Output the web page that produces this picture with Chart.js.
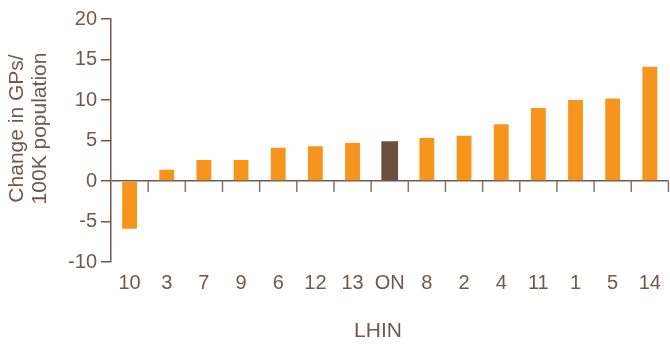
<!DOCTYPE html>
<html>
<head>
<meta charset="utf-8">
<script src="https://cdn.jsdelivr.net/npm/chart.js@4/dist/chart.umd.min.js"></script>
<style>
  html, body { margin: 0; padding: 0; background: #fff; }
  #wrap { width: 670px; height: 344px; }
</style>
</head>
<body>
<div id="wrap"><canvas id="myChart"></canvas></div>
<script>
const categories = ["10", "3", "7", "9", "6", "12", "13", "ON", "8", "2", "4", "11", "1", "5", "14"];
const values = [-5.9, 1.4, 2.6, 2.6, 4.1, 4.3, 4.7, 4.9, 5.3, 5.6, 7.0, 9.0, 10.0, 10.2, 14.1];
const yTicks = [-10, -5, 0, 5, 10, 15, 20];
const highlight = "ON";
const xTitle = "LHIN";
const yTitle = ["Change in GPs/", "100K population"];

const orange = "#f7941e";
const brown = "#6a4e3e";
const textColor = "#6e5a4f";
const axisColor = "#6e5a4f";
const fontFamily = "'Liberation Sans', Arial, sans-serif";

// orange bars for the LHINs, brown one for Ontario
const lhinData = values.map((v, i) => (categories[i] === highlight ? null : v));
const onData = values.map((v, i) => (categories[i] === highlight ? v : null));

// little ticks hanging under the zero line, between categories
const zeroTicks = {
  id: "zeroTicks",
  afterDatasetsDraw(chart) {
    const x = chart.scales.x;
    const y = chart.scales.y;
    const y0 = y.getPixelForValue(0);
    const ctx = chart.ctx;
    ctx.save();
    ctx.strokeStyle = "#85746a";
    ctx.lineWidth = 1.5;
    for (let i = 1; i <= categories.length; i++) {
      const px = x.getPixelForValue(i - 0.5);
      ctx.beginPath();
      ctx.moveTo(px, y0);
      ctx.lineTo(px, y0 + 11);
      ctx.stroke();
    }
    ctx.restore();
  },
};

// axis titles sit a bit off-centre in the original, so draw them here
const axisTitles = {
  id: "axisTitles",
  afterDraw(chart) {
    const ctx = chart.ctx;
    ctx.save();
    ctx.fillStyle = textColor;
    ctx.font = "21px " + fontFamily;
    ctx.textAlign = "center";
    ctx.textBaseline = "middle";
    ctx.fillText(xTitle, 378, 331);
    ctx.translate(17, 128.5);
    ctx.rotate(-Math.PI / 2);
    yTitle.forEach((line, i) => ctx.fillText(line, 0, i * 23));
    ctx.restore();
  },
};

const ctx = document.querySelector("#myChart").getContext("2d");
const chart = new Chart(ctx, {
  type: "bar",
  data: {
    labels: categories,
    datasets: [
      { data: lhinData, backgroundColor: orange, barPercentage: 0.4, categoryPercentage: 1, grouped: false },
      { data: onData, backgroundColor: brown, barPercentage: 0.45, categoryPercentage: 1, grouped: false },
    ],
  },
  options: {
    responsive: true,
    maintainAspectRatio: false,
    animation: false,
    layout: { padding: { left: 0, right: 1, top: 19, bottom: 0 } },
    plugins: { legend: { display: false }, tooltip: { enabled: false } },
    scales: {
      x: {
        grid: { display: false, drawTicks: false },
        border: { display: false },
        ticks: {
          color: textColor,
          padding: 9,
          font: { family: fontFamily, size: 20 },
        },
        afterFit(scale) {
          scale.height = 82;
        },
      },
      y: {
        min: -10,
        max: 20,
        afterBuildTicks(scale) {
          scale.ticks = yTicks.map((v) => ({ value: v }));
        },
        grid: {
          color: (c) => (c.tick && c.tick.value === 0 ? axisColor : "rgba(0,0,0,0)"),
          tickColor: axisColor,
          tickLength: 10,
          lineWidth: 1.5,
        },
        border: { display: true, color: axisColor, width: 1.5 },
        ticks: {
          color: textColor,
          padding: 4,
          font: { family: fontFamily, size: 20 },
        },
        afterFit(scale) {
          scale.width = 111;
        },
      },
    },
  },
  plugins: [zeroTicks, axisTitles],
});
</script>
</body>
</html>
